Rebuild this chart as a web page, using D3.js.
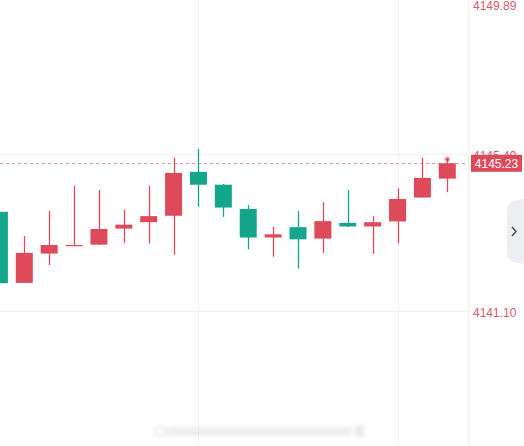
<!DOCTYPE html>
<html lang="en">
<head>
    <meta charset="utf-8">
    <title>Candles</title>
    <script src="https://cdn.jsdelivr.net/npm/d3@7"></script>
    <style>
        body { margin: 0; background: #fff; }
        svg { display: block; font-family: "Liberation Sans", Arial, sans-serif; }
    </style>
</head>
<body>
<div id="chart"></div>
<script>
    // candle values (red = up, green = down)
    var opens  = [4143.87, 4141.88, 4142.70, 4142.92, 4142.95, 4143.40, 4143.58, 4143.76, 4144.99, 4144.63,
                  4143.95, 4143.15, 4143.44, 4143.12, 4143.56, 4143.46, 4143.60, 4144.27, 4144.80];
    var highs  = [4143.87, 4143.19, 4143.90, 4144.60, 4144.48, 4143.93, 4144.60, 4145.39, 4145.63, 4144.65,
                  4144.06, 4143.45, 4143.89, 4144.14, 4144.48, 4143.75, 4144.53, 4145.39, 4145.34];
    var lows   = [4141.87, 4141.88, 4142.38, 4142.91, 4142.94, 4143.00, 4142.98, 4142.67, 4144.01, 4143.73,
                  4142.82, 4142.61, 4142.28, 4142.72, 4143.44, 4142.69, 4142.99, 4144.27, 4144.42];
    var closes = [4141.87, 4142.72, 4142.94, 4142.94, 4143.39, 4143.51, 4143.75, 4144.96, 4144.63, 4143.99,
                  4143.15, 4143.24, 4143.10, 4143.61, 4143.46, 4143.58, 4144.23, 4144.82, 4145.23];

    var priceTicks = [4149.89, 4145.49, 4141.10];
    var gridCandles = [0, 8, 16];
    var lastPrice = 4145.23;

    var w = 524;
    var h = 446;
    var axisLeft = 468;
    var up = "#df4a5a";
    var down = "#13a68b";

    var svg = d3.select("#chart")
        .append("svg")
        .attr("width", w)
        .attr("height", h);

    var xScale = d3.scaleLinear()
        .domain([0, opens.length - 1])
        .range([-0.6, 447.3]);

    var yScale = d3.scaleLinear()
        .domain([4141.10, 4145.49])
        .range([310.7, 154]);

    var bodyWidth = 17;

    // grid
    svg.selectAll("line.vgrid")
        .data(gridCandles)
        .enter()
        .append("line")
        .attr("class", "vgrid")
        .attr("x1", function (d) { return Math.round(xScale(d)) + 0.5; })
        .attr("x2", function (d) { return Math.round(xScale(d)) + 0.5; })
        .attr("y1", 0)
        .attr("y2", h)
        .attr("stroke", "#f2f2f2");

    svg.selectAll("line.hgrid")
        .data(priceTicks)
        .enter()
        .append("line")
        .attr("class", "hgrid")
        .attr("x1", 0)
        .attr("x2", axisLeft)
        .attr("y1", function (d) { return Math.round(yScale(d)) + 0.5; })
        .attr("y2", function (d) { return Math.round(yScale(d)) + 0.5; })
        .attr("stroke", "#f0f0f0");

    // separator of the price axis
    svg.append("line")
        .attr("x1", axisLeft + 0.5)
        .attr("x2", axisLeft + 0.5)
        .attr("y1", 0)
        .attr("y2", h)
        .attr("stroke", "#eeeeee");

    // current price line
    svg.append("line")
        .attr("x1", 0)
        .attr("x2", axisLeft)
        .attr("y1", Math.round(yScale(lastPrice)) + 0.5)
        .attr("y2", Math.round(yScale(lastPrice)) + 0.5)
        .attr("stroke", "#e59aa2")
        .attr("stroke-dasharray", "3,3");

    var idx = d3.range(opens.length);
    var colour = function (i) { return closes[i] >= opens[i] ? up : down; };

    // wicks
    svg.selectAll("line.wick")
        .data(idx)
        .enter()
        .append("line")
        .attr("class", "wick")
        .attr("x1", function (i) { return Math.round(xScale(i)) + 0.5; })
        .attr("x2", function (i) { return Math.round(xScale(i)) + 0.5; })
        .attr("y1", function (i) { return yScale(highs[i]); })
        .attr("y2", function (i) { return yScale(lows[i]); })
        .attr("stroke", colour)
        .attr("stroke-width", 1.3);

    // bodies
    svg.selectAll("rect.body")
        .data(idx)
        .enter()
        .append("rect")
        .attr("class", "body")
        .attr("x", function (i) { return xScale(i) - bodyWidth / 2; })
        .attr("y", function (i) { return yScale(Math.max(opens[i], closes[i])); })
        .attr("width", bodyWidth)
        .attr("height", function (i) {
            return Math.max(1.2, Math.abs(yScale(opens[i]) - yScale(closes[i])));
        })
        .attr("fill", colour);

    // live dot on the last candle
    var last = opens.length - 1;
    svg.append("circle")
        .attr("cx", xScale(last))
        .attr("cy", yScale(highs[last]))
        .attr("r", 3)
        .attr("fill", up)
        .attr("opacity", 0.35);
    svg.append("circle")
        .attr("cx", xScale(last))
        .attr("cy", yScale(highs[last]))
        .attr("r", 1.6)
        .attr("fill", up);

    // price labels (the top one is kept inside the view)
    svg.selectAll("text.tick")
        .data(priceTicks)
        .enter()
        .append("text")
        .attr("class", "tick")
        .attr("x", 473)
        .attr("y", function (d) { return Math.max(yScale(d) + 2, 5.5); })
        .attr("dy", "0.35em")
        .attr("font-size", "12px")
        .attr("fill", "#dc5a6c")
        .text(function (d) { return d.toFixed(2); });

    // last price tag
    var tagY = yScale(lastPrice);
    svg.append("rect")
        .attr("x", 471)
        .attr("y", tagY - 8.5)
        .attr("width", 51)
        .attr("height", 17)
        .attr("fill", up);
    svg.append("text")
        .attr("x", 496.5)
        .attr("y", tagY)
        .attr("dy", "0.36em")
        .attr("text-anchor", "middle")
        .attr("font-size", "12px")
        .attr("fill", "#fff")
        .text(lastPrice.toFixed(2));

    // side tab with chevron
    svg.append("path")
        .attr("d", "M524,199 L514,201 Q507,203 507,210 L507,253 Q507,260 514,262 L524,264 Z")
        .attr("fill", "#eceef2");
    svg.append("path")
        .attr("d", "M512,227 L516,231.5 L512,236")
        .attr("fill", "none")
        .attr("stroke", "#555")
        .attr("stroke-width", 1.6);

    // faint watermark
    var defs = svg.append("defs");
    defs.append("filter")
        .attr("id", "blur")
        .append("feGaussianBlur")
        .attr("stdDeviation", 2);
    var wm = svg.append("g").attr("filter", "url(#blur)").attr("opacity", 0.45);
    wm.append("circle")
        .attr("cx", 160)
        .attr("cy", 431)
        .attr("r", 5)
        .attr("fill", "none")
        .attr("stroke", "#bbb")
        .attr("stroke-width", 1.5);
    wm.append("rect")
        .attr("x", 166)
        .attr("y", 427)
        .attr("width", 186)
        .attr("height", 9)
        .attr("rx", 4)
        .attr("fill", "#d8d8d8");
    wm.append("rect")
        .attr("x", 355)
        .attr("y", 425)
        .attr("width", 9)
        .attr("height", 12)
        .attr("fill", "#cfcfcf");
</script>
</body>
</html>
